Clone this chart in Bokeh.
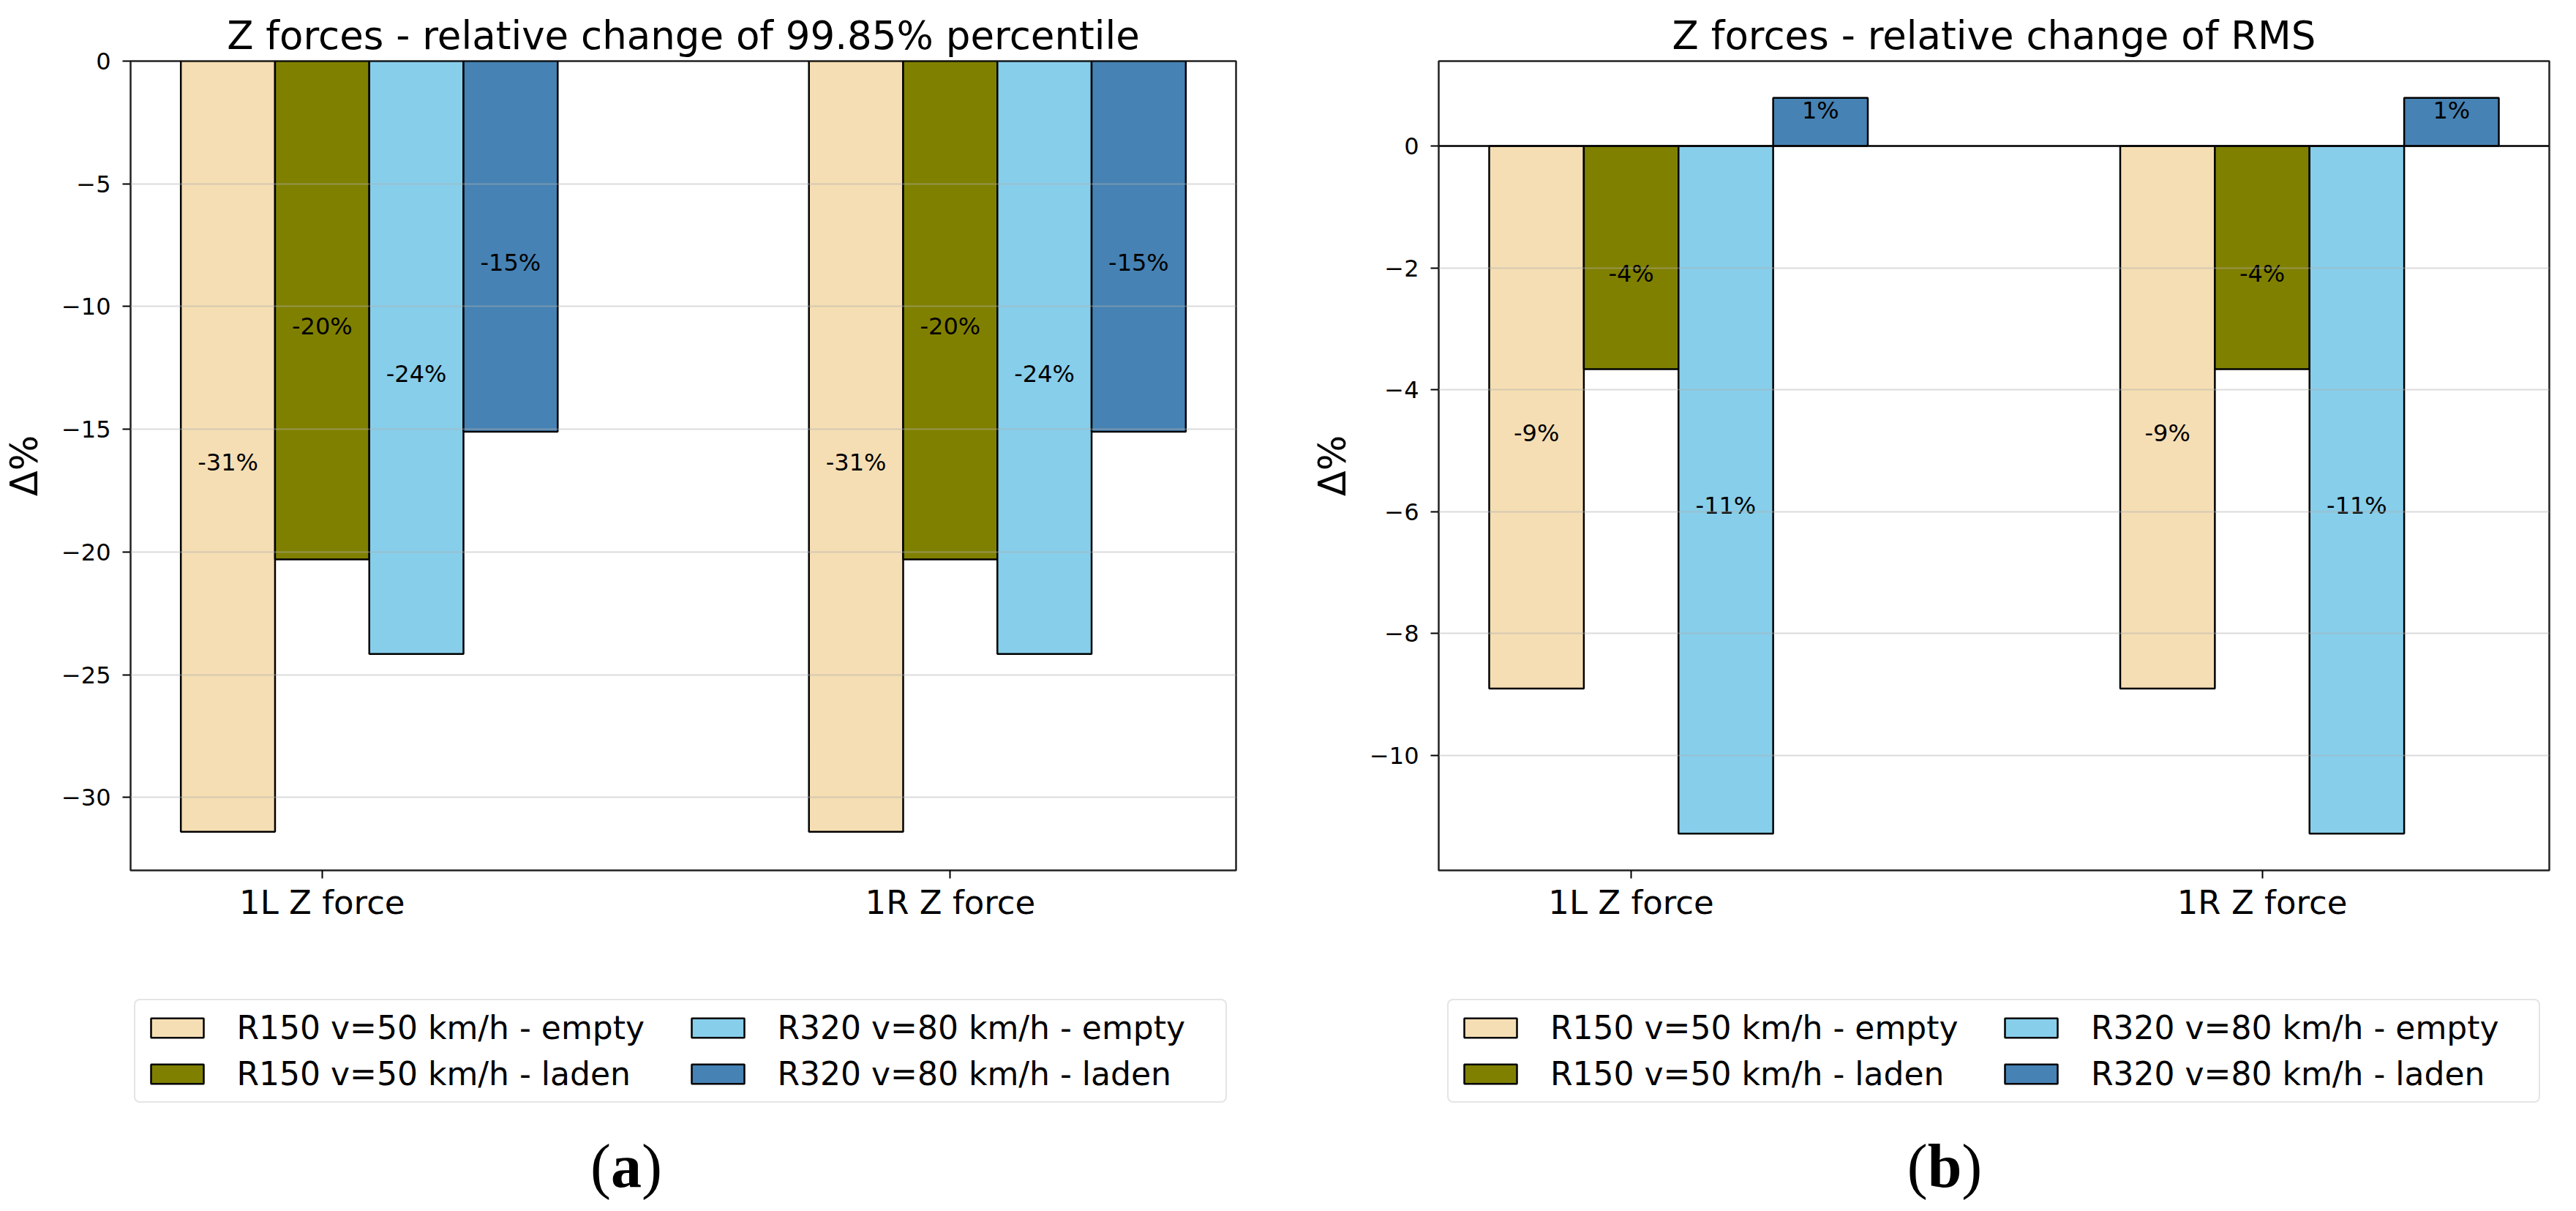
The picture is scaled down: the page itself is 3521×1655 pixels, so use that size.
from bokeh.plotting import figure
from bokeh.models import Range1d, FixedTicker, Legend, LegendItem, Span, ColumnDataSource, Div, Spacer
from bokeh.core.properties import value
from bokeh.layouts import row, column
from bokeh.embed import file_html
from bokeh.resources import INLINE

categories = ["1L Z force", "1R Z force"]
series = ["R150 v=50 km/h - empty", "R150 v=50 km/h - laden",
          "R320 v=80 km/h - empty", "R320 v=80 km/h - laden"]
colors = ["#F5DEB3", "#808000", "#87CEEB", "#4682B4"]

# (a) 99.85% percentile, one value per category
p99_empty_150 = [-31.4, -31.4]
p99_laden_150 = [-20.3, -20.3]
p99_empty_320 = [-24.15, -24.15]
p99_laden_320 = [-15.1, -15.1]

# (b) RMS
rms_empty_150 = [-8.9, -8.9]
rms_laden_150 = [-3.66, -3.66]
rms_empty_320 = [-11.28, -11.28]
rms_laden_320 = [0.79, 0.79]

p99_ticks = [0, -5, -10, -15, -20, -25, -30]
rms_ticks = [0, -2, -4, -6, -8, -10]

FONT = "DejaVu Sans"
BAR_W = 0.15
BAR_STYLE = dict(line_color="black", line_width=2.5)


def make_panel(title, values, yticks, width, border_left, border_right):
    # matplotlib-like autoscale: 5% margins, bottom of bars sticky at 0
    lo = min(min(v) for v in values)
    hi = max(max(v) for v in values)
    pad = 0.05 * (max(hi, 0) - lo)
    y_top = hi + pad if hi > 0 else 0
    offsets = [(j - 1) * BAR_W for j in range(len(values))]
    x_lo = min(offsets) - BAR_W / 2
    x_hi = len(categories) - 1 + max(offsets) + BAR_W / 2
    xpad = 0.05 * (x_hi - x_lo)

    p = figure(width=width, height=1269, output_backend="svg", toolbar_location=None,
               x_range=Range1d(x_lo - xpad, x_hi + xpad), y_range=Range1d(lo - pad, y_top),
               min_border_left=border_left, min_border_right=border_right,
               min_border_top=83, min_border_bottom=80)
    p.background_fill_color = "white"
    p.border_fill_color = "white"
    p.outline_line_color = "#222222"
    p.outline_line_width = 2.5

    p.title.text = title
    p.title.text_font = FONT
    p.title.text_font_size = "53px"
    p.title.text_font_style = "normal"
    p.title.text_color = "black"
    p.title.align = "center"
    p.title.standoff = 10

    for j, vals in enumerate(values):
        src = ColumnDataSource(dict(
            x=[i + offsets[j] for i in range(len(categories))],
            top=vals,
            ymid=[v / 2 for v in vals],
            dy=[22 if v < 0 else -16 for v in vals],
            label=[f"{v:.0f}%" for v in vals],
        ))
        p.vbar(x="x", top="top", bottom=0, width=BAR_W, source=src,
               fill_color=colors[j], **BAR_STYLE)
        p.text(x="x", y="ymid", text="label", y_offset="dy", source=src,
               text_align="center", text_baseline="middle", text_color="black",
               text_font=value(FONT), text_font_size="32px")

    if hi > 0:
        p.add_layout(Span(location=0, dimension="width", line_color="black", line_width=2.5))

    yt = FixedTicker(ticks=yticks)
    p.yaxis.ticker = yt
    p.ygrid.ticker = yt
    p.yaxis.major_label_overrides = {t: str(t).replace("-", "\u2212") for t in yticks}
    p.xaxis.ticker = FixedTicker(ticks=list(range(len(categories))))
    p.xaxis.major_label_overrides = {i: c for i, c in enumerate(categories)}

    for ax in (p.xaxis, p.yaxis):
        ax.axis_line_color = None
        ax.major_tick_out = 11
        ax.major_tick_in = 0
        ax.major_tick_line_width = 2
        ax.major_tick_line_color = "black"
        ax.minor_tick_line_color = None
        ax.major_label_text_font = FONT
        ax.major_label_text_color = "black"
    p.xaxis.major_label_text_font_size = "45px"
    p.xaxis.major_label_standoff = 6
    p.yaxis.major_label_text_font_size = "32px"
    p.yaxis.major_label_standoff = 16
    p.yaxis.axis_label = "Δ%"
    p.yaxis.axis_label_text_font = FONT
    p.yaxis.axis_label_text_font_size = "51px"
    p.yaxis.axis_label_text_font_style = "normal"
    p.yaxis.axis_label_text_color = "black"
    p.yaxis.axis_label_standoff = 18

    p.xgrid.grid_line_color = None
    p.ygrid.grid_line_color = "#b0b0b0"
    p.ygrid.grid_line_alpha = 0.45
    p.ygrid.grid_line_width = 2
    p.ygrid.level = "guide"
    return p


def make_legend(width, border_left, border_right):
    # legend sits in its own strip under the panel, same horizontal frame;
    # the swatch renderers hold a single NaN so they draw nothing themselves
    p = figure(width=width, height=270, output_backend="svg", toolbar_location=None,
               x_range=Range1d(0, 1), y_range=Range1d(0, 1),
               min_border_left=border_left, min_border_right=border_right,
               min_border_top=0, min_border_bottom=0)
    p.axis.visible = False
    p.grid.grid_line_color = None
    p.outline_line_color = None
    p.border_fill_color = "white"
    items = []
    for s, c in zip(series, colors):
        r = p.vbar(x=[float("nan")], top=[float("nan")], width=BAR_W, fill_color=c, **BAR_STYLE)
        items.append(LegendItem(label=s, renderers=[r]))
    legend = Legend(items=items, ncols=2, location="top_center", margin=96, padding=12, spacing=12,
                    glyph_width=90, glyph_height=33, label_standoff=37, label_width=600,
                    label_text_font=FONT, label_text_font_size="44px", label_text_color="black",
                    border_line_color="#cccccc", border_line_width=2.5, border_radius=8,
                    background_fill_color="white", background_fill_alpha=1)
    p.add_layout(legend)
    return p


def caption(letter):
    return Div(text=f"(<b>{letter}</b>)", width=1000, height=100,
               styles={"font-family": "Liberation Serif", "font-size": "84px",
                       "line-height": "100px", "text-align": "center", "color": "black"})


p1 = make_panel("Z forces - relative change of 99.85% percentile",
                [p99_empty_150, p99_laden_150, p99_empty_320, p99_laden_320],
                p99_ticks, 1772, 170, 83)
p2 = make_panel("Z forces - relative change of RMS",
                [rms_empty_150, rms_laden_150, rms_empty_320, rms_laden_320],
                rms_ticks, 1733, 194, 21)
l1 = make_legend(1772, 170, 83)
l2 = make_legend(1733, 194, 21)

captions = row(Spacer(width=351, height=100), caption("a"),
               Spacer(width=792, height=100), caption("b"))
layout = column(row(p1, p2), row(l1, l2), captions)
open("out.html", "w").write(file_html(layout, INLINE))
